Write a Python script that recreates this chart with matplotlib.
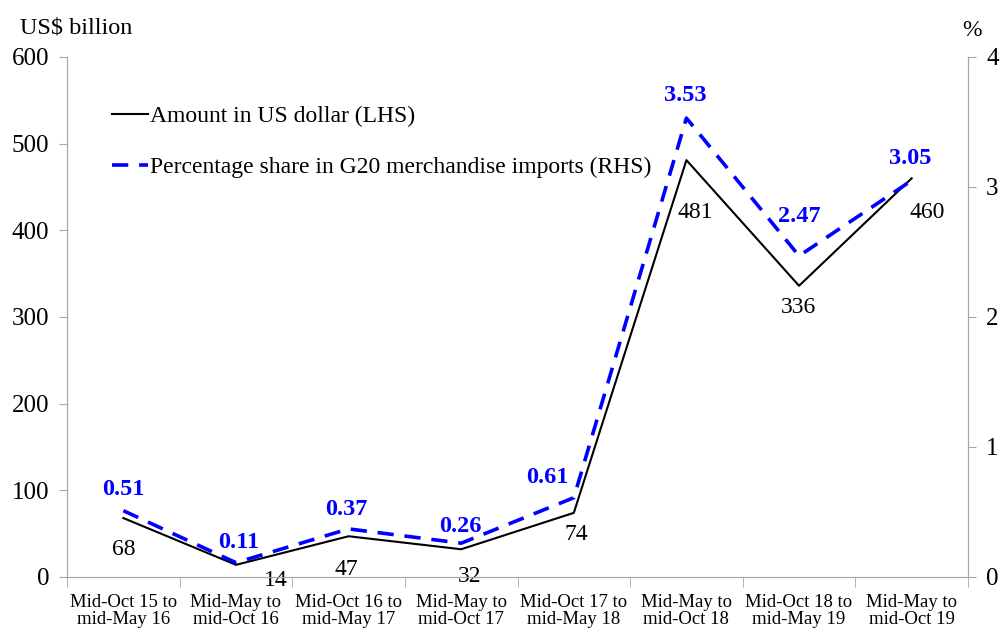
"""Amount and share of G20 import-restrictive measures, two-axis line chart."""

import matplotlib

matplotlib.use("Agg")
import matplotlib.pyplot as plt
import numpy as np

periods = [
    "Mid-Oct 15 to\nmid-May 16",
    "Mid-May to\nmid-Oct 16",
    "Mid-Oct 16 to\nmid-May 17",
    "Mid-May to\nmid-Oct 17",
    "Mid-Oct 17 to\nmid-May 18",
    "Mid-May to\nmid-Oct 18",
    "Mid-Oct 18 to\nmid-May 19",
    "Mid-May to\nmid-Oct 19",
]
amount_usd_bn = [68, 14, 47, 32, 74, 481, 336, 460]
share_pct = [0.51, 0.11, 0.37, 0.26, 0.61, 3.53, 2.47, 3.05]

# label offsets in pixels (dx, dy) from each point
amount_offsets = [(0, -31), (40, -16), (-2, -33), (8, -27), (2, -22), (9, -52), (-1, -22), (16, -34)]
share_offsets = [(0, 21), (3, 20), (-2, 19), (-1, 17), (-27, 20), (-1, 23), (0, 39), (-1, 22)]

plt.rcParams["font.family"] = ["Liberation Serif", "DejaVu Serif"]
GREY = "#a6a6a6"
BLUE = "#0000ff"


def main() -> None:
    fig = plt.figure(figsize=(10.01, 6.29), dpi=100)
    ax = fig.add_axes([0.067, 0.0827, 0.9, 0.8267])
    ax2 = ax.twinx()

    x = np.arange(len(periods))
    (l1,) = ax.plot(x, amount_usd_bn, color="black", lw=1.5, label="Amount in US dollar (LHS)")
    (l2,) = ax2.plot(x, share_pct, color=BLUE, lw=2.6, dashes=(4.5, 3),
                     label="Percentage share in G20 merchandise imports (RHS)")

    ax.set_xlim(-0.5, len(periods) - 0.5)
    ax.set_ylim(0, 600)
    ax2.set_ylim(0, 4)
    ax.set_yticks(range(0, 601, 100))
    ax2.set_yticks(range(0, 5))

    ax.set_xticks(x)
    ax.set_xticklabels(periods, fontsize=13.5, linespacing=1.05)
    ax.set_xticks(np.arange(-0.5, len(periods)), minor=True)
    ax.tick_params(axis="x", which="major", length=0, pad=12)
    ax.tick_params(axis="x", which="minor", length=7, color=GREY)
    ax.tick_params(axis="y", length=6, color=GREY, labelsize=18, pad=7)
    ax2.tick_params(axis="y", length=6, color=GREY, labelsize=18, pad=7)

    for a in (ax, ax2):
        a.spines["top"].set_visible(False)
        for s in ("left", "right", "bottom"):
            a.spines[s].set_color(GREY)

    for xi, v, (dx, dy) in zip(x, amount_usd_bn, amount_offsets):
        ax.annotate(f"{v}", (xi, v), xytext=(dx, dy), textcoords="offset pixels",
                    ha="center", va="center", fontsize=17)
    for xi, v, (dx, dy) in zip(x, share_pct, share_offsets):
        ax2.annotate(f"{v:.2f}", (xi, v), xytext=(dx, dy), textcoords="offset pixels",
                     ha="center", va="center", fontsize=17.5, color=BLUE, fontweight="bold",
                     annotation_clip=False)

    fig.text(0.02, 0.955, "US$ billion", fontsize=17.5, va="center")
    fig.text(0.971, 0.952, "%", fontsize=17, va="center", ha="center")

    ax.legend([l1, l2], [l1.get_label(), l2.get_label()], loc="upper left",
              bbox_to_anchor=(0.039, 0.924), frameon=False, fontsize=17,
              handlelength=1.55, handletextpad=0.08, labelspacing=1.22, borderaxespad=0)

    fig.savefig("out.png", dpi=100)


if __name__ == "__main__":
    main()
